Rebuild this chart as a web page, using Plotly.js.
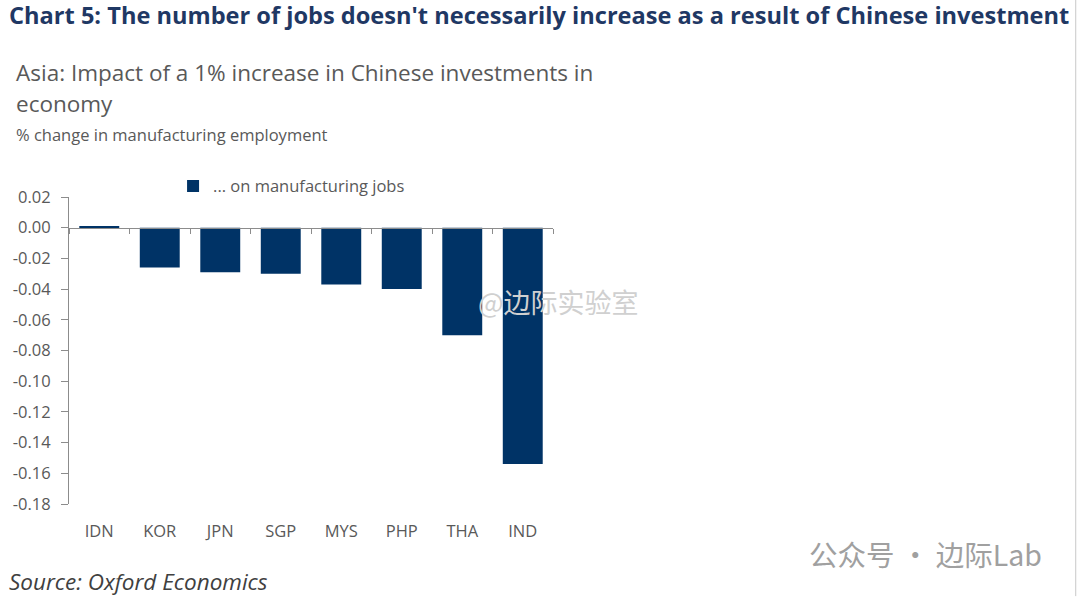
<!DOCTYPE html>
<html>
<head>
<meta charset="utf-8">
<script src="https://cdn.plot.ly/plotly-3.0.1.min.js"></script>
<style>
  html, body { margin: 0; padding: 0; background: #fff; }
  #chart { width: 1080px; height: 600px; }
</style>
</head>
<body>
<div id="chart"></div>
<script>
// ---- Data ----
const countries = ['IDN', 'KOR', 'JPN', 'SGP', 'MYS', 'PHP', 'THA', 'IND'];
const jobImpact = [0.001, -0.026, -0.029, -0.030, -0.037, -0.040, -0.070, -0.154];
const yTicks    = [0.02, 0.00, -0.02, -0.04, -0.06, -0.08, -0.10, -0.12, -0.14, -0.16, -0.18];
const yTickText = yTicks.map(v => (v < 0 ? '-' : '') + Math.abs(v).toFixed(2));

const NAVY  = '#003366';
const GREY  = '#595959';
const AXIS  = '#8c8c8c';
const FONT  = 'Open Sans, Noto Sans, sans-serif';

const trace = {
  type: 'bar',
  name: '... on manufacturing jobs',
  x: countries,
  y: jobImpact,
  marker: { color: NAVY },
  hoverinfo: 'x+y',
};

const layout = {
  width: 1080,
  height: 600,
  paper_bgcolor: '#fff',
  plot_bgcolor: '#fff',
  margin: { l: 69, r: 527, t: 197, b: 96 },
  bargap: 0.34,
  font: { family: FONT, color: GREY, size: 16 },
  showlegend: true,
  legend: {
    x: 0.215, y: 1.035, xanchor: 'left', yanchor: 'middle',
    font: { size: 16.5, color: GREY, family: FONT },
    bgcolor: 'rgba(0,0,0,0)',
    itemwidth: 30,
  },
  // x axis sits on the zero line; labels pushed down to the bottom
  xaxis: {
    type: 'category',
    anchor: 'free',
    position: 0.899,
    showline: true,
    linecolor: AXIS,
    linewidth: 1,
    ticks: 'outside',
    tickson: 'boundaries',
    ticklen: 5,
    tickcolor: AXIS,
    showgrid: false,
    zeroline: false,
    tickfont: { size: 16.5, color: GREY },
    ticklabelstandoff: 288,
  },
  yaxis: {
    range: [-0.18, 0.02],
    tickvals: yTicks,
    ticktext: yTickText,
    showline: true,
    linecolor: AXIS,
    linewidth: 1,
    ticks: 'outside',
    ticklen: 7,
    tickcolor: AXIS,
    showgrid: false,
    zeroline: false,
    tickfont: { size: 16.5, color: GREY },
    ticklabelstandoff: 7,
  },
  annotations: [
    { text: '<b>Chart 5: The number of jobs doesn\'t necessarily increase as a result of Chinese investment</b>',
      xref: 'paper', yref: 'paper', x: -0.128, y: 1.593, xanchor: 'left', yanchor: 'middle',
      showarrow: false, font: { family: FONT, size: 23.6, color: '#1f3864' } },
    { text: 'Asia: Impact of a 1% increase in Chinese investments in',
      xref: 'paper', yref: 'paper', x: -0.113, y: 1.407, xanchor: 'left', yanchor: 'middle',
      showarrow: false, font: { family: FONT, size: 22.5, color: GREY } },
    { text: 'economy',
      xref: 'paper', yref: 'paper', x: -0.113, y: 1.303, xanchor: 'left', yanchor: 'middle',
      showarrow: false, font: { family: FONT, size: 22.5, color: GREY } },
    { text: '% change in manufacturing employment',
      xref: 'paper', yref: 'paper', x: -0.113, y: 1.205, xanchor: 'left', yanchor: 'middle',
      showarrow: false, font: { family: FONT, size: 16.5, color: GREY } },
    { text: '<i>Source: Oxford Economics</i>',
      xref: 'paper', yref: 'paper', x: -0.128, y: -0.254, xanchor: 'left', yanchor: 'middle',
      showarrow: false, font: { family: FONT, size: 22.5, color: '#404040' } },
    // watermarks
    { text: '@边际实验室',
      xref: 'paper', yref: 'paper', x: 0.84, y: 0.66, xanchor: 'left', yanchor: 'middle',
      showarrow: false, font: { family: 'Noto Sans CJK SC, sans-serif', size: 27, color: '#d0d0d0' } },
    { text: '公众号 · 边际Lab',
      xref: 'paper', yref: 'paper', x: 1.525, y: -0.162, xanchor: 'left', yanchor: 'middle',
      showarrow: false, font: { family: 'Noto Sans CJK SC, sans-serif', size: 28.5, color: '#a0a0a0' } },
  ],
  shapes: [
    { type: 'line', xref: 'paper', yref: 'paper', x0: 2.08, x1: 2.08, y0: -0.3, y1: 1.7,
      line: { color: '#c8c8c8', width: 1 } },
  ],
};

Plotly.newPlot('chart', [trace], layout, { displayModeBar: false, responsive: false });
</script>
</body>
</html>
